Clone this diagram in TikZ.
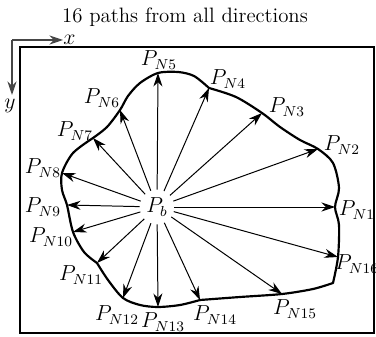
\documentclass[tikz,border=0pt]{standalone}
\usepackage{amsmath, amssymb}
\usepackage{xcolor}
\usepackage{tikz}
\usetikzlibrary{arrows.meta}
\definecolor{axisgray}{RGB}{70, 70, 70}

\begin{document}
\begin{tikzpicture}[x=0.0194cm, y=-0.0194cm, font=\fontsize{11.5}{14}\selectfont,
   >={Stealth[length=7.5pt, width=5pt]},
   ray/.style={->, line width=0.55pt},
   bound/.style={line width=1.2pt, line join=round, line cap=round},
   lab/.style={inner sep=0pt, font=\large}]
  \useasboundingbox (0,0) rectangle (376,337);
  \node (title) at (185,17) {16 paths from all directions};
  % axes
  \coordinate (o) at (12,40); \coordinate (xe) at (63,40); \coordinate (ye) at (12,95);
  \draw[->, axisgray, line width=0.6pt] (o) -- (xe); \draw[->, axisgray, line width=0.6pt] (o) -- (ye);
  \node[lab, anchor=west] (xl) at (xe) {$x$}; \node[lab] (yl) at (10,106) {$y$};
  \draw[line width=1.1pt] (20,47) rectangle (374,333);
  % boundary points
  \coordinate (n1) at (335,207); \coordinate (n2) at (318,149); \coordinate (n3) at (262,113);
  \coordinate (n4) at (209,88); \coordinate (n5) at (158,73); \coordinate (n6) at (120,110);
  \coordinate (n7) at (93,138); \coordinate (n8) at (62,173); \coordinate (n9) at (67,205);
  \coordinate (n10) at (73,232); \coordinate (n11) at (97,263); \coordinate (n12) at (123,298);
  \coordinate (n13) at (158,307); \coordinate (n14) at (200,300); \coordinate (n15) at (282,294);
  \coordinate (n16) at (338,257); \coordinate (cr) at (333,283);
  % boundary, one smooth piece between kinks
  \draw[bound] plot[smooth, tension=0.5] coordinates {(n4) (236,97) (n3) (280,127) (300,140) (n2) (333,163)
    (339,188) (n1) (339,225) (n16) (cr)};
  \draw[bound] plot[smooth, tension=0.5] coordinates {(cr) (313,289) (n15) (240,297) (n14)};
  \draw[bound] plot[smooth, tension=0.5] coordinates {(n14) (180,305) (n13) (140,305) (n12) (108,280) (n11)};
  \draw[bound] plot[smooth, tension=0.5] coordinates {(n11) (84,252) (n10) (n9) (62,190) (n8) (73,153) (n7)};
  \draw[bound] plot[smooth, tension=0.5] coordinates {(n7) (107,127) (n6) (128,96) (140,83) (n5) (178,72)
    (194,76) (n4)};
  % centre and rays
  \node[circle, minimum size=0.66cm, inner sep=0pt, font=\large] (pb) at (157,207) {$P_b$};
  \foreach \i in {1,...,16} \draw[ray] (pb) -- (n\i);
  % labels
  \node[lab] (l1) at (357,210) {$P_{N1}$}; \node[lab] (l2) at (342,145) {$P_{N2}$};
  \node[lab] (l3) at (287,107) {$P_{N3}$}; \node[lab] (l4) at (228,79) {$P_{N4}$};
  \node[lab] (l5) at (159,60) {$P_{N5}$}; \node[lab] (l6) at (102,98) {$P_{N6}$};
  \node[lab] (l7) at (75,131) {$P_{N7}$}; \node[lab] (l8) at (43,168) {$P_{N8}$};
  \node[lab] (l9) at (43,207) {$P_{N9}$}; \node[lab] (l10) at (51,237) {$P_{N10}$};
  \node[lab] (l11) at (81,275) {$P_{N11}$}; \node[lab] (l12) at (117,315) {$P_{N12}$};
  \node[lab] (l13) at (163,322) {$P_{N13}$}; \node[lab] (l14) at (215,315) {$P_{N14}$};
  \node[lab] (l15) at (295,309) {$P_{N15}$}; \node[lab] (l16) at (357,264) {$P_{N16}$};
\end{tikzpicture}
\end{document}
